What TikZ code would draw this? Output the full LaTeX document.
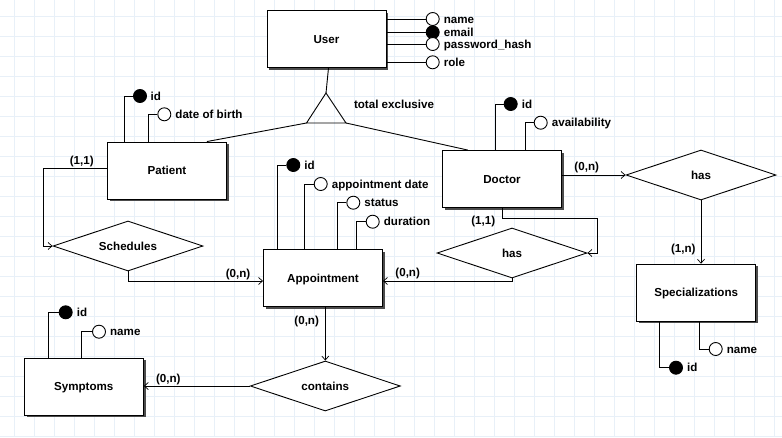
\documentclass[tikz,border=0pt]{standalone}
\usepackage{fontspec}
\setmainfont{Liberation Sans}
\usetikzlibrary{shapes.geometric,arrows.meta,shadows}
\definecolor{gridc}{RGB}{232,240,248}
\begin{document}
\begin{tikzpicture}[x=1pt,y=-1pt,
  every node/.style={font=\fontsize{11.6}{13}\selectfont\bfseries, text height=8.3pt, text depth=0pt},
  ent/.style={draw, fill=white, line width=0.9pt, minimum width=119pt, minimum height=57pt, inner sep=0pt,
    general shadow={fill=black!70, shadow xshift=2.2pt, shadow yshift=-2.2pt}},
  rel/.style={draw, fill=white, diamond, aspect=3, line width=0.9pt, minimum width=150pt, minimum height=50pt, inner sep=0pt},
  attr/.style={circle, draw, fill=white, line width=0.9pt, minimum size=13pt, inner sep=0pt, text height=, text depth=},
  key/.style={attr, fill=black},
  lbl/.style={anchor=west, inner sep=0pt},
  card/.style={inner sep=0pt},
  ln/.style={line width=0.9pt},
  arr/.style={ln, -{Straight Barb[length=4pt,width=7pt,line width=0.7pt]}},
  gridl/.style={draw=gridc, line width=1pt}]
% background and grid
\useasboundingbox (0,0) rectangle (782,437);
\fill[white] (0,0) rectangle (782,437);
\foreach \x in {14,34,...,774} \draw[gridl] (\x,0) -- (\x,437);
\foreach \y in {16,36,...,436} \draw[gridl] (0,\y) -- (782,\y);

% entities
\node[ent] (user) at (326.5,39) {User};
\node[ent] (patient) at (167,170.5) {Patient};
\node[ent] (app) at (323,278) {Appointment};
\node[ent] (doctor) at (502,179) {Doctor};
\node[ent] (spec) at (696.2,292.7) {Specializations};
\node[ent] (symp) at (83.8,386.7) {Symptoms};

% relationships
\node[rel] (sched) at (128,246) {Schedules};
\node[rel] (has2) at (512,253) {has};
\node[rel] (has1) at (701,175) {has};
\node[rel] (cont) at (325.3,386) {contains};

% generalisation
\coordinate (isaT) at (326,93);
\coordinate (isaL) at (306.5,123);
\coordinate (isaR) at (346,123);
\draw[ln] (isaL) -- (isaT) -- (isaR) -- cycle;
\node[card] (isalbl) at (394,104) {total exclusive};
\draw[ln] ([xshift=2pt]user.south) -- (isaT);
\draw[ln] (isaL) -- ([xshift=-20pt]patient.north east);
\draw[ln] (isaR) -- ([xshift=25.7pt]doctor.north west);

% User attributes
\node[attr] (un) at (432.7,19) {};
\node[key] (ue) at (432.7,32.3) {};
\node[attr] (up) at (432.7,44) {};
\node[attr] (ur) at (432.7,62.3) {};
\draw[ln] (user.east |- un) -- (un);
\draw[ln] (user.east |- ue) -- (ue);
\draw[ln] (user.east |- up) -- (up);
\draw[ln] (user.east |- ur) -- (ur);
\node[lbl] (unl) at ([xshift=4pt]un.east) {name};
\node[lbl] (uel) at ([xshift=4pt]ue.east) {email};
\node[lbl] (upl) at ([xshift=4pt]up.east) {password\_hash};
\node[lbl] (url) at ([xshift=4pt]ur.east) {role};

% Patient attributes
\node[key] (pi) at (140,96) {};
\node[attr] (pd) at (164.3,114.3) {};
\draw[ln] ([xshift=17.3pt]patient.north west) |- (pi);
\draw[ln] ([xshift=41.3pt]patient.north west) |- (pd);
\node[lbl] (pil) at ([xshift=3.5pt]pi.east) {id};
\node[lbl] (pdl) at ([xshift=4pt]pd.east) {date of birth};

% Appointment attributes
\node[key] (ai) at (293.3,165) {};
\node[attr] (ad) at (320.7,184) {};
\node[attr] (as) at (353.3,202.7) {};
\node[attr] (au) at (372.7,221.7) {};
\draw[ln] ([xshift=14.4pt]app.north west) |- (ai);
\draw[ln] ([xshift=41pt]app.north west) |- (ad);
\draw[ln] ([xshift=74pt]app.north west) |- (as);
\draw[ln] ([xshift=93.4pt]app.north west) |- (au);
\node[lbl] (ail) at ([xshift=4pt]ai.east) {id};
\node[lbl] (adl) at ([xshift=4pt]ad.east) {appointment date};
\node[lbl] (asl) at ([xshift=4pt]as.east) {status};
\node[lbl] (aul) at ([xshift=4pt]au.east) {duration};

% Doctor attributes
\node[key] (di) at (510.7,104) {};
\node[attr] (da) at (540.7,122.7) {};
\draw[ln] ([xshift=53.8pt]doctor.north west) |- (di);
\draw[ln] ([xshift=83pt]doctor.north west) |- (da);
\node[lbl] (dil) at ([xshift=4pt]di.east) {id};
\node[lbl] (dal) at ([xshift=4pt]da.east) {availability};

% Specializations attributes
\node[key] (si) at (676,367.7) {};
\node[attr] (sn) at (715.7,349) {};
\draw[ln] ([xshift=23.5pt]spec.south west) |- (si);
\draw[ln] ([xshift=62.8pt]spec.south west) |- (sn);
\node[lbl] (sil) at ([xshift=4pt]si.east) {id};
\node[lbl] (snl) at ([xshift=4pt]sn.east) {name};

% Symptoms attributes
\node[key] (yi) at (65.7,312.3) {};
\node[attr] (yn) at (99,331.7) {};
\draw[ln] ([xshift=25pt]symp.north west) |- (yi);
\draw[ln] ([xshift=58pt]symp.north west) |- (yn);
\node[lbl] (yil) at ([xshift=4pt]yi.east) {id};
\node[lbl] (ynl) at ([xshift=4pt]yn.east) {name};

% connectors
\draw[arr] ([yshift=2pt]patient.west) -- ++(-64,0) |- (sched.west);
\draw[arr] (sched.south) |- ([yshift=-3pt]app.west);
\draw[arr] (has2.south) |- ([yshift=-3pt]app.east);
\draw[arr] (doctor.south) -- ++(0,10.7) -- ++(95,0) |- (has2.east);
\draw[arr] (doctor.east |- has1.west) -- (has1.west);
\draw[arr] (has1.south) -- (has1.south |- spec.north);
\draw[arr] (app.south -| cont.north) -- (cont.north);
\draw[arr] (cont.west) -- (cont.west -| symp.east);

% cardinalities
\node[card] (c1) at (81.7,160) {(1,1)};
\node[card] (c2) at (238,273) {(0,n)};
\node[card] (c3) at (407.7,272.7) {(0,n)};
\node[card] (c4) at (483.3,220) {(1,1)};
\node[card] (c5) at (586.7,166) {(0,n)};
\node[card] (c6) at (683.3,248.3) {(1,n)};
\node[card] (c7) at (306.7,320.7) {(0,n)};
\node[card] (c8) at (168.3,378.3) {(0,n)};
\end{tikzpicture}
\end{document}
